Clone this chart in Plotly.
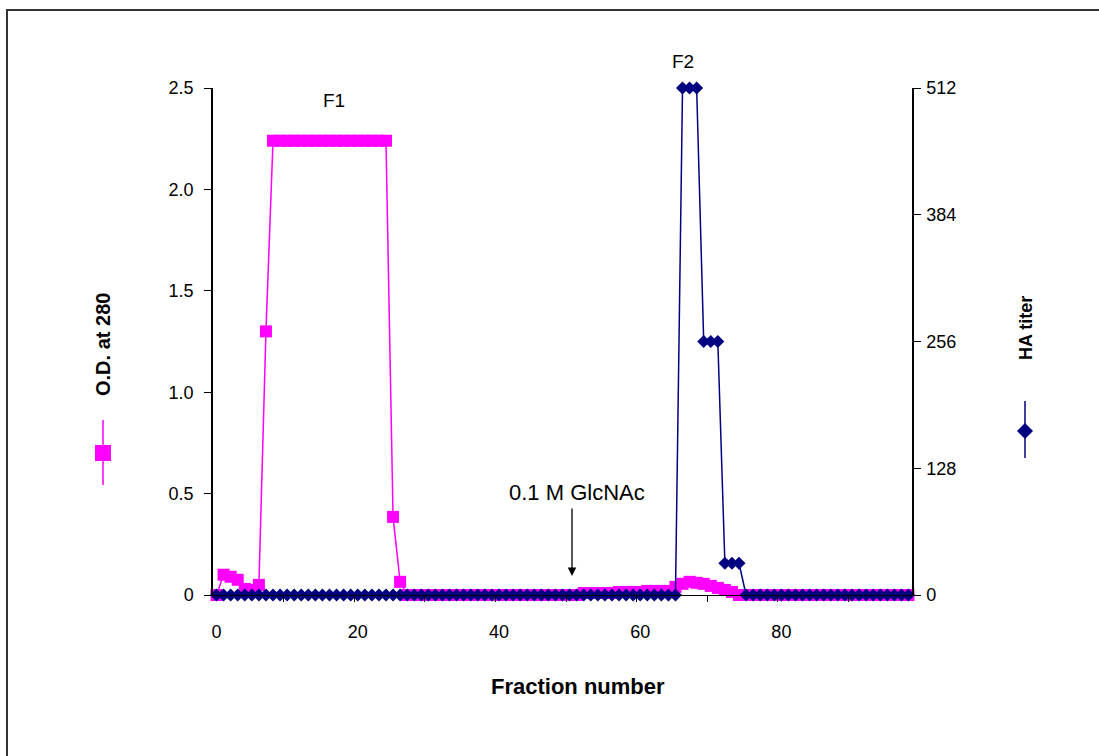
import plotly.graph_objects as go

# ---------------- data ----------------
fractions = list(range(0, 99))

od280 = ([0.0, 0.10, 0.09, 0.075, 0.03, 0.025, 0.05, 1.30]
         + [2.24] * 17
         + [0.385, 0.065]
         + [0.0] * 25
         + [0.01] * 5
         + [0.015] * 4
         + [0.02] * 4
         + [0.04, 0.055, 0.065, 0.06, 0.055, 0.045, 0.035, 0.025, 0.015]
         + [0.0] * 25)

ha_titer = ([0] * 66
            + [512, 512, 512]
            + [256, 256, 256]
            + [32, 32, 32]
            + [0] * 24)

x_tick_vals = [0, 20, 40, 60, 80]
x_minor_tick_vals = [9.5 + 10 * k for k in range(9)]
y1_tick_vals = [0, 0.5, 1.0, 1.5, 2.0, 2.5]
y1_tick_text = ["0", "0.5", "1.0", "1.5", "2.0", "2.5"]
y2_tick_vals = [0, 128, 256, 384, 512]

PINK = "#FF00FF"
NAVY = "#000080"
FONT = "Liberation Sans, Arial, sans-serif"

W, H = 1099, 756
L, R, T, B = 213, 912, 88, 595  # plot area in pixels


def px(x):
    return (x - L) / (R - L)


def py(y):
    return (B - y) / (B - T)


fig = go.Figure()
fig.add_trace(go.Scatter(
    x=fractions, y=od280, mode="lines+markers", name="O.D. at 280",
    line=dict(color=PINK, width=1.5),
    marker=dict(symbol="square", size=12, color=PINK),
    cliponaxis=False, yaxis="y"))
fig.add_trace(go.Scatter(
    x=fractions, y=ha_titer, mode="lines+markers", name="HA titer",
    line=dict(color=NAVY, width=1.5),
    marker=dict(symbol="diamond", size=10, color=NAVY),
    cliponaxis=False, yaxis="y2"))

shapes = []
# outer frame
shapes.append(dict(type="rect", xref="paper", yref="paper",
                   x0=px(7), x1=px(1110), y0=py(10), y1=py(770),
                   line=dict(color="#333333", width=2), layer="below"))
# left legend key (pink line + square)
shapes.append(dict(type="line", xref="paper", yref="paper",
                   x0=px(103), x1=px(103), y0=py(420), y1=py(485),
                   line=dict(color=PINK, width=1.5)))
shapes.append(dict(type="rect", xref="paper", yref="paper",
                   x0=px(95), x1=px(111), y0=py(445), y1=py(461),
                   fillcolor=PINK, line=dict(color=PINK, width=0)))
# right legend key (navy line + diamond)
shapes.append(dict(type="line", xref="paper", yref="paper",
                   x0=px(1025), x1=px(1025), y0=py(401), y1=py(458),
                   line=dict(color=NAVY, width=1.5)))
shapes.append(dict(type="path", xref="paper", yref="paper",
                   path=f"M {px(1025)},{py(423)} L {px(1033)},{py(431)} L {px(1025)},{py(439)} L {px(1017)},{py(431)} Z",
                   fillcolor=NAVY, line=dict(color=NAVY, width=0)))

annotations = [
    dict(text="<b>O.D. at 280</b>", xref="paper", yref="paper", x=px(103), y=py(345),
         showarrow=False, textangle=-90, font=dict(family=FONT, size=20, color="black"),
         xanchor="center", yanchor="middle"),
    dict(text="<b>HA titer</b>", xref="paper", yref="paper", x=px(1026), y=py(328),
         showarrow=False, textangle=-90, font=dict(family=FONT, size=18, color="black"),
         xanchor="center", yanchor="middle"),
    dict(text="<b>Fraction number</b>", xref="paper", yref="paper", x=px(578), y=py(686),
         showarrow=False, font=dict(family=FONT, size=22, color="black"),
         xanchor="center", yanchor="middle"),
    dict(text="F1", xref="paper", yref="paper", x=px(334), y=py(100),
         showarrow=False, font=dict(family=FONT, size=19, color="black"),
         xanchor="center", yanchor="middle"),
    dict(text="F2", xref="paper", yref="paper", x=px(683), y=py(62),
         showarrow=False, font=dict(family=FONT, size=19, color="black"),
         xanchor="center", yanchor="middle"),
    dict(text="0.1 M GlcNAc", xref="paper", yref="paper", x=px(577), y=py(492),
         showarrow=False, font=dict(family=FONT, size=22, color="black"),
         xanchor="center", yanchor="middle"),
    dict(text="", xref="paper", yref="paper", x=px(572), y=py(576),
         ax=0, ay=-69, axref="pixel", ayref="pixel",
         showarrow=True, arrowhead=2, arrowsize=1.3, arrowwidth=1.3, arrowcolor="black"),
]

tick_common = dict(ticklen=7, tickcolor="black", tickwidth=1, showgrid=False, zeroline=False)

fig.update_layout(
    width=W, height=H,
    margin=dict(l=L, r=W - R, t=T, b=H - B, pad=0),
    paper_bgcolor="white", plot_bgcolor="white",
    showlegend=False,
    font=dict(family=FONT, size=18, color="black"),
    shapes=shapes, annotations=annotations,
    xaxis=dict(range=[-0.5, 98.5], tickvals=x_tick_vals, ticks="",
               showgrid=False, zeroline=False, showline=True, linecolor="black", linewidth=1,
               ticklabelstandoff=20, tickfont=dict(size=18),
               minor=dict(tickmode="array", tickvals=x_minor_tick_vals,
                          ticks="outside", ticklen=6, tickcolor="black", showgrid=False)),
    xaxis2=dict(range=[-0.5, 98.5], overlaying="x", side="bottom", anchor="y",
                tickvals=x_minor_tick_vals, ticks="inside", ticklen=6, tickcolor="black",
                showticklabels=False, showgrid=False, zeroline=False, showline=False),
    yaxis=dict(range=[0, 2.5], tickvals=y1_tick_vals, ticktext=y1_tick_text,
               ticks="outside", showline=True, linecolor="black", linewidth=1.5,
               ticklabelstandoff=7, tickfont=dict(size=18), **tick_common),
    yaxis2=dict(range=[0, 512], tickvals=y2_tick_vals, overlaying="y", side="right",
                ticks="outside", showline=True, linecolor="black", linewidth=1.5,
                ticklabelstandoff=2, tickfont=dict(size=18), **tick_common),
    yaxis3=dict(range=[0, 2.5], tickvals=y1_tick_vals, overlaying="y", side="left",
                ticks="inside", showticklabels=False, showline=False, **tick_common),
    yaxis4=dict(range=[0, 512], tickvals=y2_tick_vals, overlaying="y", side="right",
                ticks="inside", showticklabels=False, showline=False, **tick_common),
)

fig.write_html("out.html")
